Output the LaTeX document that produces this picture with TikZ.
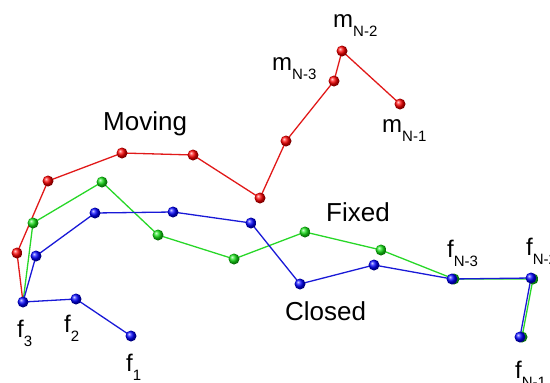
\documentclass[tikz,border=0pt]{standalone}
\usepackage{fontspec}
\setmainfont{Liberation Sans}
\usetikzlibrary{positioning}

\definecolor{linered}{RGB}{225,25,25}
\definecolor{linegreen}{RGB}{40,215,40}
\definecolor{lineblue}{RGB}{25,25,215}
\definecolor{ballgreen}{RGB}{20,225,20}

\newcommand{\sublbl}[2]{#1\raisebox{-9pt}{\fontsize{15}{15}\selectfont #2}}

\tikzset{
	redline/.style={draw=linered, line width=1.3pt},
	greenline/.style={draw=linegreen, line width=1.3pt},
	blueline/.style={draw=lineblue, line width=1.3pt},
	rball/.style={ball color=red},
	gball/.style={ball color=ballgreen},
	bball/.style={ball color=blue},
	ptlabel/.style={anchor=base west, inner sep=0pt, font=\fontsize{24}{24}\selectfont},
	chainname/.style={anchor=base west, inner sep=0pt, font=\fontsize{26}{26}\selectfont}
}

\begin{document}
\begin{tikzpicture}[x=1pt, y=-1pt]

	\clip (0, 0) rectangle (550, 383);

	% closed chain
	\coordinate (F1) at (131, 336);
	\coordinate (F2) at (76, 299);
	\coordinate (F3) at (23, 302);
	\coordinate (B1) at (36, 256);
	\coordinate (B2) at (95, 213);
	\coordinate (B3) at (173, 212);
	\coordinate (B4) at (251, 223);
	\coordinate (B5) at (300, 284);
	\coordinate (B6) at (374, 265);
	\coordinate (FN3) at (452, 279);
	\coordinate (FN2) at (531, 278);
	\coordinate (FN1) at (520, 337);

	% fixed chain
	\coordinate (G1) at (33, 223);
	\coordinate (G2) at (102, 182);
	\coordinate (G3) at (158, 235);
	\coordinate (G4) at (234, 259);
	\coordinate (G5) at (305, 232);
	\coordinate (G6) at (381, 250);
	\coordinate (GN3) at (454, 279);
	\coordinate (GN2) at (533, 279);
	\coordinate (GN1) at (522, 337);

	% moving chain
	\coordinate (R1) at (17, 253);
	\coordinate (R2) at (48, 181);
	\coordinate (R3) at (122, 153);
	\coordinate (R4) at (193, 155);
	\coordinate (R5) at (260, 198);
	\coordinate (R6) at (286, 141);
	\coordinate (MN3) at (334, 81);
	\coordinate (MN2) at (342, 51);
	\coordinate (MN1) at (400, 104);

	\draw[redline] (F3) -- (R1) -- (R2) -- (R3) -- (R4) -- (R5) -- (R6) -- (MN3) -- (MN2) -- (MN1);
	\draw[greenline] (F3) -- (G1) -- (G2) -- (G3) -- (G4) -- (G5) -- (G6) -- (GN3) -- (GN2) -- (GN1);
	\draw[blueline] (F1) -- (F2) -- (F3) -- (B1) -- (B2) -- (B3) -- (B4) -- (B5) -- (B6) -- (FN3) -- (FN2) -- (FN1);

	\shade[rball] (R1) circle (5.5pt);
	\shade[rball] (R2) circle (5.5pt);
	\shade[rball] (R3) circle (5.5pt);
	\shade[rball] (R4) circle (5.5pt);
	\shade[rball] (R5) circle (5.5pt);
	\shade[rball] (R6) circle (5.5pt);
	\shade[rball] (MN3) circle (5.5pt);
	\shade[rball] (MN2) circle (5.5pt);
	\shade[rball] (MN1) circle (5.5pt);

	\shade[gball] (G1) circle (5.5pt);
	\shade[gball] (G2) circle (5.5pt);
	\shade[gball] (G3) circle (5.5pt);
	\shade[gball] (G4) circle (5.5pt);
	\shade[gball] (G5) circle (5.5pt);
	\shade[gball] (G6) circle (5.5pt);
	\shade[gball] (GN3) circle (5.5pt);
	\shade[gball] (GN2) circle (5.5pt);
	\shade[gball] (GN1) circle (5.5pt);

	\shade[bball] (F1) circle (5.5pt);
	\shade[bball] (F2) circle (5.5pt);
	\shade[bball] (F3) circle (5.5pt);
	\shade[bball] (B1) circle (5.5pt);
	\shade[bball] (B2) circle (5.5pt);
	\shade[bball] (B3) circle (5.5pt);
	\shade[bball] (B4) circle (5.5pt);
	\shade[bball] (B5) circle (5.5pt);
	\shade[bball] (B6) circle (5.5pt);
	\shade[bball] (FN3) circle (5.5pt);
	\shade[bball] (FN2) circle (5.5pt);
	\shade[bball] (FN1) circle (5.5pt);

	% labels
	\node[ptlabel] (lf3) at (17, 337) {\sublbl{f}{3}};
	\node[ptlabel] (lf2) at (64, 332) {\sublbl{f}{2}};
	\node[ptlabel] (lf1) at (126, 371) {\sublbl{f}{1}};
	\node[ptlabel] (lfN3) at (447, 257) {\sublbl{f}{N-3}};
	\node[ptlabel] (lfN2) at (526, 255) {\sublbl{f}{N-2}};
	\node[ptlabel] (lfN1) at (515, 378) {\sublbl{f}{N-1}};

	\node[ptlabel] (lmN2) at (333, 27) {\sublbl{m}{N-2}};
	\node[ptlabel] (lmN3) at (272, 70) {\sublbl{m}{N-3}};
	\node[ptlabel] (lmN1) at (382, 132) {\sublbl{m}{N-1}};

	\node[chainname] (moving) at (103, 130) {Moving};
	\node[chainname] (fixed) at (326, 221) {Fixed};
	\node[chainname] (closed) at (285, 320) {Closed};

\end{tikzpicture}
\end{document}
